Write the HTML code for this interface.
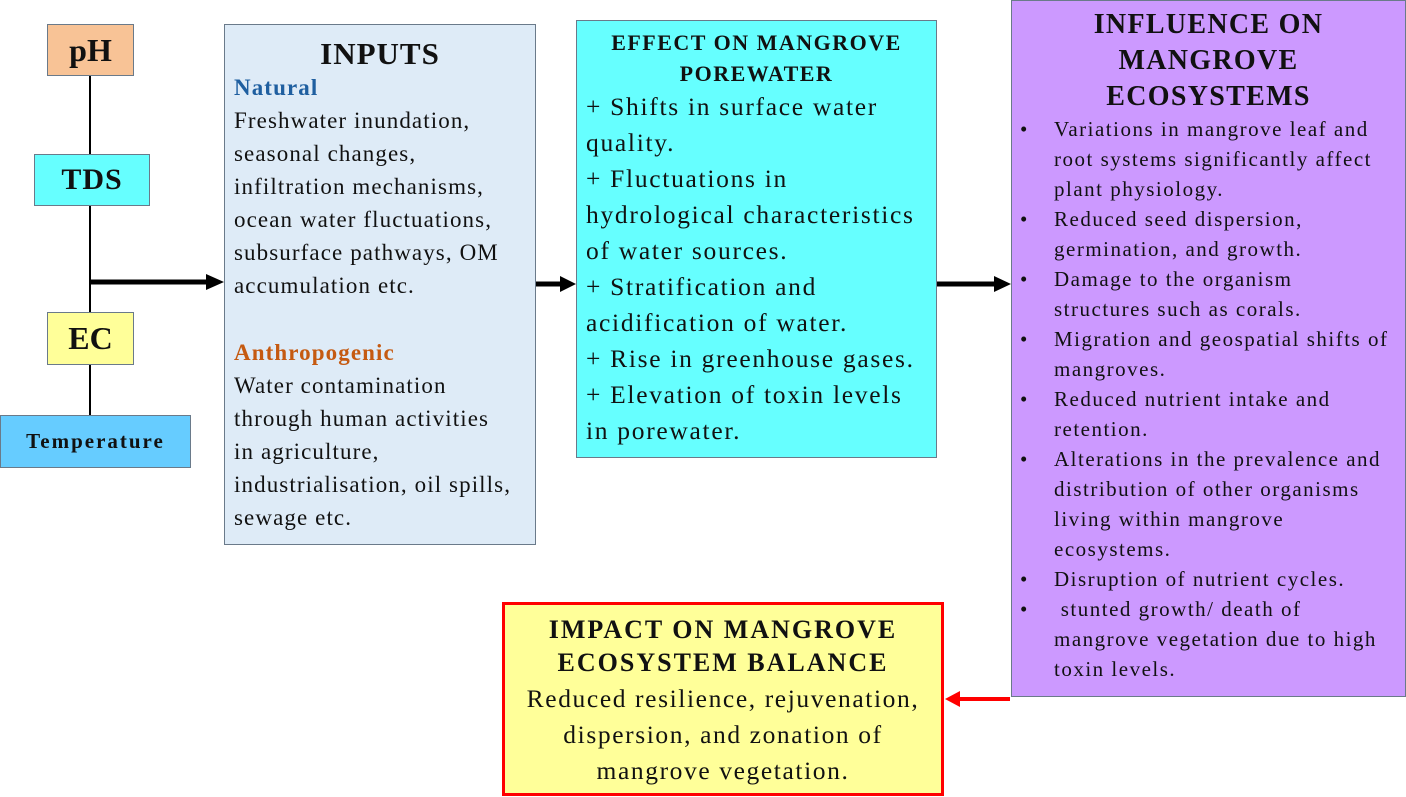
<!DOCTYPE html>
<html><head><meta charset="utf-8"><style>
body{margin:0;width:1406px;height:797px;background:#fff;position:relative;overflow:hidden;font-family:"Liberation Serif",serif;color:#111}
.b{position:absolute;box-sizing:border-box;border:1px solid #6a7a8a;white-space:nowrap}
.c{display:flex;align-items:center;justify-content:center;font-weight:bold}
.l{position:absolute;background:#000}
ul{margin:0;padding:0;list-style:none}
li{position:relative;padding-left:42px}
li:before{content:"•";position:absolute;left:8px}
</style></head><body>
<div class="l" style="left:89px;top:75px;width:2px;height:340px"></div>
<div class="b c" style="left:47px;top:24px;width:87px;height:52px;background:#f8c396;font-size:32px">pH</div>
<div class="b c" style="left:34px;top:154px;width:116px;height:52px;background:#66ffff;font-size:30px;letter-spacing:1px">TDS</div>
<div class="b c" style="left:47px;top:312px;width:87px;height:53px;background:#ffff99;font-size:32px">EC</div>
<div class="b c" style="left:0;top:415px;width:191px;height:53px;background:#66ccff;font-size:21px;letter-spacing:2px">Temperature</div>
<svg style="position:absolute;left:0;top:0" width="1406" height="797">
<line x1="91" y1="282" x2="208" y2="282" stroke="#000" stroke-width="5"/><polygon points="206,274 224,282 206,290" fill="#000"/>
<line x1="536" y1="284" x2="562" y2="284" stroke="#000" stroke-width="5"/><polygon points="560,276 576,284 560,292" fill="#000"/>
<line x1="937" y1="284" x2="996" y2="284" stroke="#000" stroke-width="5"/><polygon points="994,276 1011,284 994,292" fill="#000"/>
<line x1="1010" y1="699" x2="958" y2="699" stroke="#f00" stroke-width="4"/><polygon points="960,691 945,699 960,707" fill="#f00"/>
</svg>
<div class="b" style="left:224px;top:24px;width:312px;height:521px;background:#deebf7;padding:10px 0 0 9px;font-size:23px;line-height:33px;letter-spacing:1.1px">
<div style="text-align:center;font-weight:bold;font-size:31px;line-height:38px;margin-right:9px;letter-spacing:1px">INPUTS</div>
<div style="color:#1f5fa0;font-weight:bold;margin-top:-2px">Natural</div>
<div>Freshwater inundation,<br>seasonal changes,<br>infiltration mechanisms,<br>ocean water fluctuations,<br>subsurface pathways, OM<br>accumulation etc.</div>
<div style="color:#c55a11;font-weight:bold;margin-top:34px">Anthropogenic</div>
<div>Water contamination<br>through human activities<br>in agriculture,<br>industrialisation, oil spills,<br>sewage etc.</div>
</div>
<div class="b" style="left:576px;top:20px;width:361px;height:438px;background:#66ffff;padding:6px 0 0 9px;font-size:25.5px;line-height:36px;letter-spacing:1.7px">
<div style="text-align:center;font-weight:bold;font-size:22px;line-height:31px;margin-right:9px;letter-spacing:1.5px">EFFECT ON MANGROVE<br>POREWATER</div>
<div>+ Shifts in surface water<br>quality.<br>+ Fluctuations in<br>hydrological characteristics<br>of water sources.<br>+ Stratification and<br>acidification of water.<br>+ Rise in greenhouse gases.<br>+ Elevation of toxin levels<br>in porewater.</div>
</div>
<div class="b" style="left:1011px;top:0;width:395px;height:697px;background:#cc99ff;padding:6px 0 0 0;font-size:21px;line-height:30px;letter-spacing:1.5px">
<div style="text-align:center;font-weight:bold;font-size:28px;line-height:36px;letter-spacing:1.3px">INFLUENCE ON<br>MANGROVE<br>ECOSYSTEMS</div>
<ul style="margin-top:-1px">
<li>Variations in mangrove leaf and<br>root systems significantly affect<br>plant physiology.</li>
<li>Reduced seed dispersion,<br>germination, and growth.</li>
<li>Damage to the organism<br>structures such as corals.</li>
<li>Migration and geospatial shifts of<br>mangroves.</li>
<li>Reduced nutrient intake and<br>retention.</li>
<li>Alterations in the prevalence and<br>distribution of other organisms<br>living within mangrove<br>ecosystems.</li>
<li>Disruption of nutrient cycles.</li>
<li>&nbsp;stunted growth/ death of<br>mangrove vegetation due to high<br>toxin levels.</li>
</ul>
</div>
<div class="b" style="left:502px;top:602px;width:442px;height:194px;background:#ffff99;border:3px solid #f00;text-align:center;padding-top:8px;font-size:25.5px;line-height:36px;letter-spacing:1.6px">
<div style="font-weight:bold;font-size:26px;line-height:33px;letter-spacing:2px">IMPACT ON MANGROVE<br>ECOSYSTEM BALANCE</div>
<div style="margin-top:2px">Reduced resilience, rejuvenation,<br>dispersion, and zonation of<br>mangrove vegetation.</div>
</div>
</body></html>
